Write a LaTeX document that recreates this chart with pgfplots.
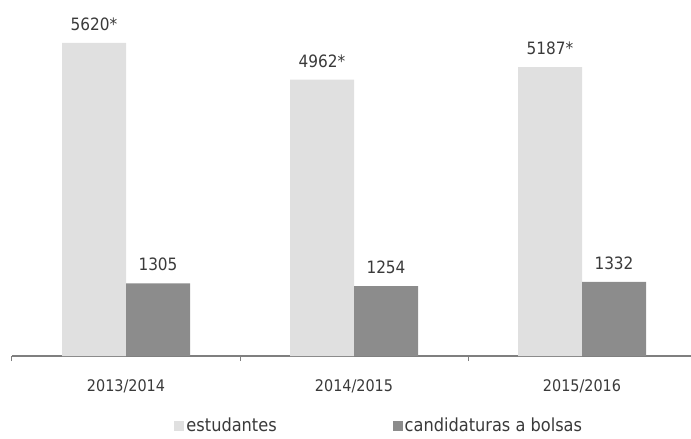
\documentclass[border=0pt]{standalone}
\usepackage{pgfplots}
\pgfplotsset{compat=1.18}
\usepackage{fontspec}
\setmainfont{DejaVu Sans Condensed}
\definecolor{lg}{HTML}{E0E0E0}
\definecolor{dg}{HTML}{8C8C8C}
\definecolor{tx}{HTML}{3A3A3A}
\definecolor{axc}{HTML}{7F7F7F}
\begin{document}
\begin{tikzpicture}
\begin{axis}[
 scale only axis, width=684pt, height=356pt,
 xmin=-0.5, xmax=2.5, ymin=0, ymax=6392,
 axis x line=bottom, axis y line=none,
 axis line style={axc, line width=1.5pt, -},
 xtick={0,1,2}, xticklabels={2013/2014,2014/2015,2015/2016},
 major tick length=0pt,
 extra x ticks={-0.5,0.5,1.5,2.5}, extra x tick labels={},
 extra x tick style={major tick length=5pt, tick align=outside, tick style={axc, line width=1pt}},
 xticklabel style={font=\fontsize{16}{19}\selectfont, text=tx, yshift=-20pt},
 ybar, bar width=64pt,
 nodes near coords, point meta=explicit symbolic,
 nodes near coords style={font=\fontsize{17}{20}\selectfont, text=tx, anchor=south, inner sep=0pt, yshift=12pt},
 clip=false,
 legend columns=2,
 legend style={draw=none, at={(0.537,-0.196)}, anchor=center, font=\fontsize{18}{21}\selectfont, text=tx,
   inner sep=0pt, /tikz/every even column/.append style={column sep=114pt}},
 legend image code/.code={\fill[#1] (0pt,-5pt) rectangle (10pt,5pt);},
]
\addplot[fill=lg, draw=none, bar shift=-32pt] coordinates {(0,5620)[5620*] (1,4962)[4962*] (2,5187)[5187*]};
\addplot[fill=dg, draw=none, bar shift=32pt] coordinates {(0,1305)[1305] (1,1254)[1254] (2,1332)[1332]};
\legend{estudantes, candidaturas a bolsas}
\coordinate (ll) at (rel axis cs:0,0);
\end{axis}
\pgfresetboundingbox
\path ([shift={(-12pt,-83pt)}]ll) rectangle ([shift={(679pt,356pt)}]ll);
\end{tikzpicture}
\end{document}
